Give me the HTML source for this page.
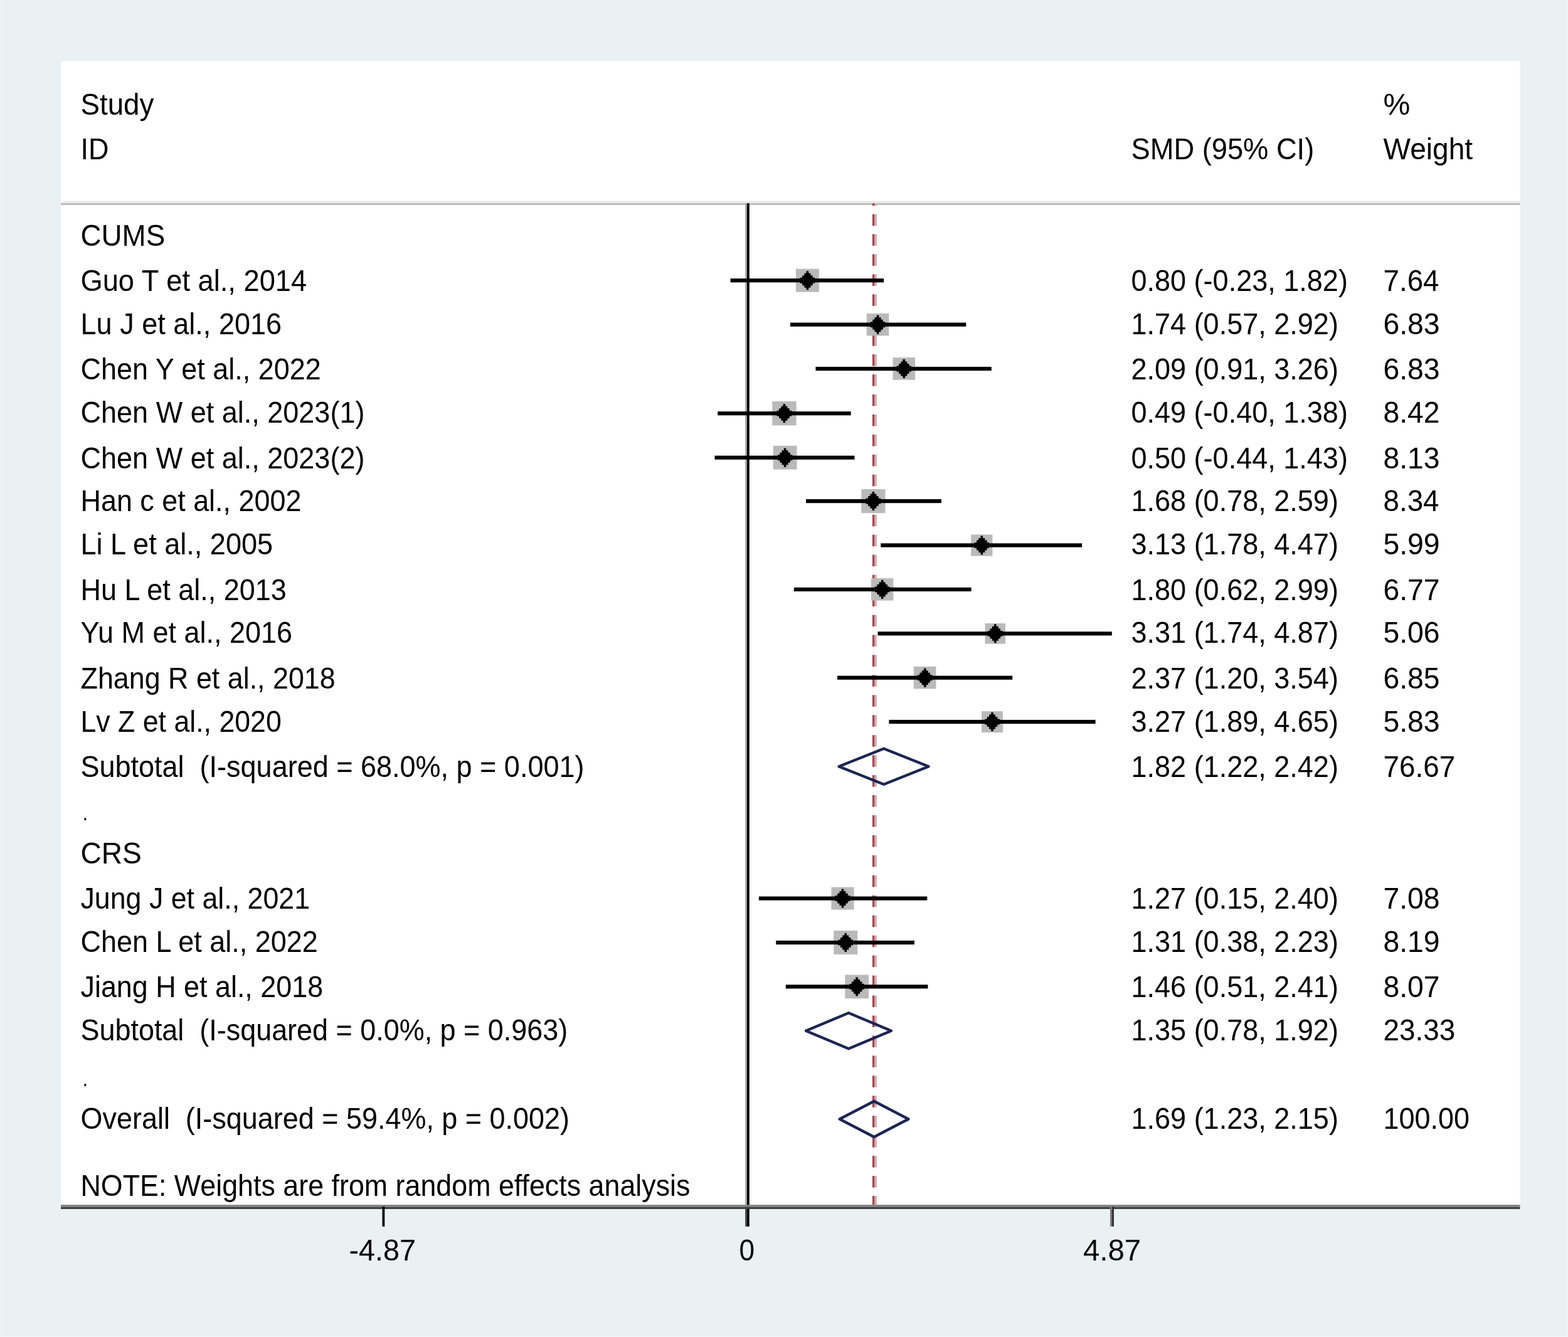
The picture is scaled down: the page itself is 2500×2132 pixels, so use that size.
<!DOCTYPE html>
<html><head><meta charset="utf-8"><title>Forest plot</title>
<style>
html,body{margin:0;padding:0;background:#e9f1f2;}
body{width:2500px;height:2132px;overflow:hidden;}
svg{display:block;}
</style></head>
<body>
<svg width="2500" height="2132" viewBox="0 0 2500 2132">
<rect x="0" y="0" width="2500" height="2132" fill="#e9f1f2"/>
<rect x="0" y="0" width="1" height="2132" fill="#f1f5f6"/>
<rect x="2499" y="0" width="1" height="2132" fill="#f4f7f8"/>
<rect x="0" y="2131" width="2500" height="1" fill="#f4f7f8"/>
<rect x="97" y="97" width="2326.5" height="1824.2" fill="#ffffff"/>
<rect x="97" y="320.3" width="2326.5" height="3.5" fill="#ececec"/>
<rect x="97" y="323.8" width="2326.5" height="3.2" fill="#c0bfbf"/>
<rect x="1188.1" y="324" width="2.9" height="1631.8" fill="#a8a8a8"/>
<rect x="1191" y="324" width="3.8" height="1631.8" fill="#000000"/>
<rect x="1390.9" y="324.0" width="3.7" height="4.1" fill="#9a4b52"/>
<rect x="1394.6" y="324.0" width="3.3" height="4.1" fill="#d2aeb1"/>
<rect x="1390.9" y="341.5" width="3.7" height="18.5" fill="#9a4b52"/>
<rect x="1394.6" y="341.5" width="3.3" height="18.5" fill="#d2aeb1"/>
<rect x="1390.9" y="373.4" width="3.7" height="18.5" fill="#9a4b52"/>
<rect x="1394.6" y="373.4" width="3.3" height="18.5" fill="#d2aeb1"/>
<rect x="1390.9" y="405.4" width="3.7" height="18.5" fill="#9a4b52"/>
<rect x="1394.6" y="405.4" width="3.3" height="18.5" fill="#d2aeb1"/>
<rect x="1390.9" y="437.4" width="3.7" height="18.5" fill="#9a4b52"/>
<rect x="1394.6" y="437.4" width="3.3" height="18.5" fill="#d2aeb1"/>
<rect x="1390.9" y="469.3" width="3.7" height="18.5" fill="#9a4b52"/>
<rect x="1394.6" y="469.3" width="3.3" height="18.5" fill="#d2aeb1"/>
<rect x="1390.9" y="501.2" width="3.7" height="18.5" fill="#9a4b52"/>
<rect x="1394.6" y="501.2" width="3.3" height="18.5" fill="#d2aeb1"/>
<rect x="1390.9" y="533.2" width="3.7" height="18.5" fill="#9a4b52"/>
<rect x="1394.6" y="533.2" width="3.3" height="18.5" fill="#d2aeb1"/>
<rect x="1390.9" y="565.1" width="3.7" height="18.5" fill="#9a4b52"/>
<rect x="1394.6" y="565.1" width="3.3" height="18.5" fill="#d2aeb1"/>
<rect x="1390.9" y="597.1" width="3.7" height="18.5" fill="#9a4b52"/>
<rect x="1394.6" y="597.1" width="3.3" height="18.5" fill="#d2aeb1"/>
<rect x="1390.9" y="629.0" width="3.7" height="18.5" fill="#9a4b52"/>
<rect x="1394.6" y="629.0" width="3.3" height="18.5" fill="#d2aeb1"/>
<rect x="1390.9" y="661.0" width="3.7" height="18.5" fill="#9a4b52"/>
<rect x="1394.6" y="661.0" width="3.3" height="18.5" fill="#d2aeb1"/>
<rect x="1390.9" y="693.0" width="3.7" height="18.5" fill="#9a4b52"/>
<rect x="1394.6" y="693.0" width="3.3" height="18.5" fill="#d2aeb1"/>
<rect x="1390.9" y="724.9" width="3.7" height="18.5" fill="#9a4b52"/>
<rect x="1394.6" y="724.9" width="3.3" height="18.5" fill="#d2aeb1"/>
<rect x="1390.9" y="756.8" width="3.7" height="18.5" fill="#9a4b52"/>
<rect x="1394.6" y="756.8" width="3.3" height="18.5" fill="#d2aeb1"/>
<rect x="1390.9" y="788.8" width="3.7" height="18.5" fill="#9a4b52"/>
<rect x="1394.6" y="788.8" width="3.3" height="18.5" fill="#d2aeb1"/>
<rect x="1390.9" y="820.8" width="3.7" height="18.5" fill="#9a4b52"/>
<rect x="1394.6" y="820.8" width="3.3" height="18.5" fill="#d2aeb1"/>
<rect x="1390.9" y="852.7" width="3.7" height="18.5" fill="#9a4b52"/>
<rect x="1394.6" y="852.7" width="3.3" height="18.5" fill="#d2aeb1"/>
<rect x="1390.9" y="884.6" width="3.7" height="18.5" fill="#9a4b52"/>
<rect x="1394.6" y="884.6" width="3.3" height="18.5" fill="#d2aeb1"/>
<rect x="1390.9" y="916.6" width="3.7" height="18.5" fill="#9a4b52"/>
<rect x="1394.6" y="916.6" width="3.3" height="18.5" fill="#d2aeb1"/>
<rect x="1390.9" y="948.5" width="3.7" height="18.5" fill="#9a4b52"/>
<rect x="1394.6" y="948.5" width="3.3" height="18.5" fill="#d2aeb1"/>
<rect x="1390.9" y="980.5" width="3.7" height="18.5" fill="#9a4b52"/>
<rect x="1394.6" y="980.5" width="3.3" height="18.5" fill="#d2aeb1"/>
<rect x="1390.9" y="1012.4" width="3.7" height="18.5" fill="#9a4b52"/>
<rect x="1394.6" y="1012.4" width="3.3" height="18.5" fill="#d2aeb1"/>
<rect x="1390.9" y="1044.4" width="3.7" height="18.5" fill="#9a4b52"/>
<rect x="1394.6" y="1044.4" width="3.3" height="18.5" fill="#d2aeb1"/>
<rect x="1390.9" y="1076.3" width="3.7" height="18.5" fill="#9a4b52"/>
<rect x="1394.6" y="1076.3" width="3.3" height="18.5" fill="#d2aeb1"/>
<rect x="1390.9" y="1108.3" width="3.7" height="18.5" fill="#9a4b52"/>
<rect x="1394.6" y="1108.3" width="3.3" height="18.5" fill="#d2aeb1"/>
<rect x="1390.9" y="1140.2" width="3.7" height="18.5" fill="#9a4b52"/>
<rect x="1394.6" y="1140.2" width="3.3" height="18.5" fill="#d2aeb1"/>
<rect x="1390.9" y="1172.2" width="3.7" height="18.5" fill="#9a4b52"/>
<rect x="1394.6" y="1172.2" width="3.3" height="18.5" fill="#d2aeb1"/>
<rect x="1390.9" y="1204.2" width="3.7" height="18.5" fill="#9a4b52"/>
<rect x="1394.6" y="1204.2" width="3.3" height="18.5" fill="#d2aeb1"/>
<rect x="1390.9" y="1236.1" width="3.7" height="18.5" fill="#9a4b52"/>
<rect x="1394.6" y="1236.1" width="3.3" height="18.5" fill="#d2aeb1"/>
<rect x="1390.9" y="1268.0" width="3.7" height="18.5" fill="#9a4b52"/>
<rect x="1394.6" y="1268.0" width="3.3" height="18.5" fill="#d2aeb1"/>
<rect x="1390.9" y="1300.0" width="3.7" height="18.5" fill="#9a4b52"/>
<rect x="1394.6" y="1300.0" width="3.3" height="18.5" fill="#d2aeb1"/>
<rect x="1390.9" y="1331.9" width="3.7" height="18.5" fill="#9a4b52"/>
<rect x="1394.6" y="1331.9" width="3.3" height="18.5" fill="#d2aeb1"/>
<rect x="1390.9" y="1363.9" width="3.7" height="18.5" fill="#9a4b52"/>
<rect x="1394.6" y="1363.9" width="3.3" height="18.5" fill="#d2aeb1"/>
<rect x="1390.9" y="1395.8" width="3.7" height="18.5" fill="#9a4b52"/>
<rect x="1394.6" y="1395.8" width="3.3" height="18.5" fill="#d2aeb1"/>
<rect x="1390.9" y="1427.8" width="3.7" height="18.5" fill="#9a4b52"/>
<rect x="1394.6" y="1427.8" width="3.3" height="18.5" fill="#d2aeb1"/>
<rect x="1390.9" y="1459.8" width="3.7" height="18.5" fill="#9a4b52"/>
<rect x="1394.6" y="1459.8" width="3.3" height="18.5" fill="#d2aeb1"/>
<rect x="1390.9" y="1491.7" width="3.7" height="18.5" fill="#9a4b52"/>
<rect x="1394.6" y="1491.7" width="3.3" height="18.5" fill="#d2aeb1"/>
<rect x="1390.9" y="1523.6" width="3.7" height="18.5" fill="#9a4b52"/>
<rect x="1394.6" y="1523.6" width="3.3" height="18.5" fill="#d2aeb1"/>
<rect x="1390.9" y="1555.6" width="3.7" height="18.5" fill="#9a4b52"/>
<rect x="1394.6" y="1555.6" width="3.3" height="18.5" fill="#d2aeb1"/>
<rect x="1390.9" y="1587.5" width="3.7" height="18.5" fill="#9a4b52"/>
<rect x="1394.6" y="1587.5" width="3.3" height="18.5" fill="#d2aeb1"/>
<rect x="1390.9" y="1619.5" width="3.7" height="18.5" fill="#9a4b52"/>
<rect x="1394.6" y="1619.5" width="3.3" height="18.5" fill="#d2aeb1"/>
<rect x="1390.9" y="1651.5" width="3.7" height="18.5" fill="#9a4b52"/>
<rect x="1394.6" y="1651.5" width="3.3" height="18.5" fill="#d2aeb1"/>
<rect x="1390.9" y="1683.4" width="3.7" height="18.5" fill="#9a4b52"/>
<rect x="1394.6" y="1683.4" width="3.3" height="18.5" fill="#d2aeb1"/>
<rect x="1390.9" y="1715.3" width="3.7" height="18.5" fill="#9a4b52"/>
<rect x="1394.6" y="1715.3" width="3.3" height="18.5" fill="#d2aeb1"/>
<rect x="1390.9" y="1747.3" width="3.7" height="18.5" fill="#9a4b52"/>
<rect x="1394.6" y="1747.3" width="3.3" height="18.5" fill="#d2aeb1"/>
<rect x="1390.9" y="1779.2" width="3.7" height="18.5" fill="#9a4b52"/>
<rect x="1394.6" y="1779.2" width="3.3" height="18.5" fill="#d2aeb1"/>
<rect x="1390.9" y="1811.2" width="3.7" height="18.5" fill="#9a4b52"/>
<rect x="1394.6" y="1811.2" width="3.3" height="18.5" fill="#d2aeb1"/>
<rect x="1390.9" y="1843.1" width="3.7" height="18.5" fill="#9a4b52"/>
<rect x="1394.6" y="1843.1" width="3.3" height="18.5" fill="#d2aeb1"/>
<rect x="1390.9" y="1875.1" width="3.7" height="18.5" fill="#9a4b52"/>
<rect x="1394.6" y="1875.1" width="3.3" height="18.5" fill="#d2aeb1"/>
<rect x="1390.9" y="1907.0" width="3.7" height="14.2" fill="#9a4b52"/>
<rect x="1394.6" y="1907.0" width="3.3" height="14.2" fill="#d2aeb1"/>
<rect x="1268.9" y="428.7" width="37.0" height="37.0" fill="#bababa"/>
<rect x="1164.6" y="444.1" width="244.5" height="6.2" fill="#000"/>
<rect x="1275.7" y="442.7" width="23.5" height="9.0" fill="#000"/>
<rect x="1279.2" y="439.2" width="16.5" height="16.0" fill="#000"/>
<rect x="1282.4" y="435.7" width="10.0" height="23.0" fill="#000"/>
<rect x="1285.6" y="432.2" width="3.6" height="30.0" fill="#000"/>
<rect x="1381.7" y="499.8" width="35.6" height="35.6" fill="#bababa"/>
<rect x="1260.0" y="514.5" width="280.3" height="6.2" fill="#000"/>
<rect x="1387.8" y="513.1" width="23.5" height="9.0" fill="#000"/>
<rect x="1391.3" y="509.6" width="16.5" height="16.0" fill="#000"/>
<rect x="1394.5" y="506.1" width="10.0" height="23.0" fill="#000"/>
<rect x="1397.7" y="502.6" width="3.6" height="30.0" fill="#000"/>
<rect x="1423.5" y="570.1" width="35.6" height="35.6" fill="#bababa"/>
<rect x="1300.5" y="584.9" width="280.3" height="6.2" fill="#000"/>
<rect x="1429.5" y="583.5" width="23.5" height="9.0" fill="#000"/>
<rect x="1433.0" y="580.0" width="16.5" height="16.0" fill="#000"/>
<rect x="1436.3" y="576.5" width="10.0" height="23.0" fill="#000"/>
<rect x="1439.5" y="573.0" width="3.6" height="30.0" fill="#000"/>
<rect x="1231.3" y="640.0" width="38.3" height="38.3" fill="#bababa"/>
<rect x="1144.3" y="656.1" width="212.3" height="6.2" fill="#000"/>
<rect x="1238.7" y="654.7" width="23.5" height="9.0" fill="#000"/>
<rect x="1242.2" y="651.2" width="16.5" height="16.0" fill="#000"/>
<rect x="1245.4" y="647.7" width="10.0" height="23.0" fill="#000"/>
<rect x="1248.6" y="644.2" width="3.6" height="30.0" fill="#000"/>
<rect x="1232.7" y="710.8" width="37.8" height="37.8" fill="#bababa"/>
<rect x="1139.5" y="726.6" width="223.0" height="6.2" fill="#000"/>
<rect x="1239.9" y="725.2" width="23.5" height="9.0" fill="#000"/>
<rect x="1243.4" y="721.7" width="16.5" height="16.0" fill="#000"/>
<rect x="1246.6" y="718.2" width="10.0" height="23.0" fill="#000"/>
<rect x="1249.8" y="714.7" width="3.6" height="30.0" fill="#000"/>
<rect x="1373.3" y="780.0" width="38.2" height="38.2" fill="#bababa"/>
<rect x="1285.0" y="796.0" width="215.9" height="6.2" fill="#000"/>
<rect x="1380.6" y="794.6" width="23.5" height="9.0" fill="#000"/>
<rect x="1384.1" y="791.1" width="16.5" height="16.0" fill="#000"/>
<rect x="1387.4" y="787.6" width="10.0" height="23.0" fill="#000"/>
<rect x="1390.6" y="784.1" width="3.6" height="30.0" fill="#000"/>
<rect x="1548.2" y="852.4" width="34.2" height="34.2" fill="#bababa"/>
<rect x="1404.3" y="866.4" width="320.8" height="6.2" fill="#000"/>
<rect x="1553.6" y="865.0" width="23.5" height="9.0" fill="#000"/>
<rect x="1557.1" y="861.5" width="16.5" height="16.0" fill="#000"/>
<rect x="1560.3" y="858.0" width="10.0" height="23.0" fill="#000"/>
<rect x="1563.5" y="854.5" width="3.6" height="30.0" fill="#000"/>
<rect x="1388.9" y="922.1" width="35.5" height="35.5" fill="#bababa"/>
<rect x="1265.9" y="936.8" width="282.7" height="6.2" fill="#000"/>
<rect x="1394.9" y="935.4" width="23.5" height="9.0" fill="#000"/>
<rect x="1398.4" y="931.9" width="16.5" height="16.0" fill="#000"/>
<rect x="1401.7" y="928.4" width="10.0" height="23.0" fill="#000"/>
<rect x="1404.9" y="924.9" width="3.6" height="30.0" fill="#000"/>
<rect x="1570.5" y="994.0" width="32.6" height="32.6" fill="#bababa"/>
<rect x="1399.5" y="1007.2" width="373.3" height="6.2" fill="#000"/>
<rect x="1575.0" y="1005.8" width="23.5" height="9.0" fill="#000"/>
<rect x="1578.5" y="1002.3" width="16.5" height="16.0" fill="#000"/>
<rect x="1581.8" y="998.8" width="10.0" height="23.0" fill="#000"/>
<rect x="1585.0" y="995.3" width="3.6" height="30.0" fill="#000"/>
<rect x="1456.8" y="1062.8" width="35.6" height="35.6" fill="#bababa"/>
<rect x="1335.1" y="1077.6" width="279.1" height="6.2" fill="#000"/>
<rect x="1462.9" y="1076.2" width="23.5" height="9.0" fill="#000"/>
<rect x="1466.4" y="1072.7" width="16.5" height="16.0" fill="#000"/>
<rect x="1469.7" y="1069.2" width="10.0" height="23.0" fill="#000"/>
<rect x="1472.9" y="1065.7" width="3.6" height="30.0" fill="#000"/>
<rect x="1565.1" y="1134.1" width="33.9" height="33.9" fill="#bababa"/>
<rect x="1417.4" y="1147.9" width="329.2" height="6.2" fill="#000"/>
<rect x="1570.3" y="1146.5" width="23.5" height="9.0" fill="#000"/>
<rect x="1573.8" y="1143.0" width="16.5" height="16.0" fill="#000"/>
<rect x="1577.0" y="1139.5" width="10.0" height="23.0" fill="#000"/>
<rect x="1580.2" y="1136.0" width="3.6" height="30.0" fill="#000"/>
<polygon points="1337.5,1222.2 1409.1,1193.7 1480.6,1222.2 1409.1,1250.7" fill="none" stroke="#1c2552" stroke-width="4.4" stroke-linejoin="round"/>
<rect x="1325.5" y="1414.6" width="36.0" height="36.0" fill="#bababa"/>
<rect x="1209.9" y="1429.5" width="268.4" height="6.2" fill="#000"/>
<rect x="1331.7" y="1428.1" width="23.5" height="9.0" fill="#000"/>
<rect x="1335.2" y="1424.6" width="16.5" height="16.0" fill="#000"/>
<rect x="1338.5" y="1421.1" width="10.0" height="23.0" fill="#000"/>
<rect x="1341.7" y="1417.6" width="3.6" height="30.0" fill="#000"/>
<rect x="1329.3" y="1484.0" width="37.9" height="37.9" fill="#bababa"/>
<rect x="1237.3" y="1499.9" width="220.6" height="6.2" fill="#000"/>
<rect x="1336.5" y="1498.5" width="23.5" height="9.0" fill="#000"/>
<rect x="1340.0" y="1495.0" width="16.5" height="16.0" fill="#000"/>
<rect x="1343.2" y="1491.5" width="10.0" height="23.0" fill="#000"/>
<rect x="1346.4" y="1488.0" width="3.6" height="30.0" fill="#000"/>
<rect x="1347.3" y="1554.5" width="37.7" height="37.7" fill="#bababa"/>
<rect x="1252.8" y="1570.2" width="226.6" height="6.2" fill="#000"/>
<rect x="1354.4" y="1568.8" width="23.5" height="9.0" fill="#000"/>
<rect x="1357.9" y="1565.3" width="16.5" height="16.0" fill="#000"/>
<rect x="1361.1" y="1561.8" width="10.0" height="23.0" fill="#000"/>
<rect x="1364.3" y="1558.3" width="3.6" height="30.0" fill="#000"/>
<polygon points="1285.0,1643.7 1353.0,1615.2 1421.0,1643.7 1353.0,1672.2" fill="none" stroke="#1c2552" stroke-width="4.4" stroke-linejoin="round"/>
<polygon points="1338.7,1784.5 1393.6,1756.0 1448.4,1784.5 1393.6,1813.0" fill="none" stroke="#1c2552" stroke-width="4.4" stroke-linejoin="round"/>
<rect x="97" y="1921.2" width="2326.5" height="3.6" fill="#808181"/>
<rect x="97" y="1924.8" width="2326.5" height="3.1" fill="#3c3d3d"/>
<rect x="1188.1" y="1927.9" width="2.9" height="27.9" fill="#4a4e50"/>
<rect x="609.5" y="1924" width="3.8" height="31.8" fill="#000"/>
<rect x="1770" y="1924" width="3" height="31.8" fill="#7a7a7a"/>
<rect x="1773" y="1924" width="3" height="31.8" fill="#333"/>
<g style="white-space:pre" xml:space="preserve" font-family="'Liberation Sans', Arial, sans-serif" font-size="49" fill="#000">
<text x="137.72" y="182.70" transform="scale(0.93307,1)">Study</text>
<text x="140.13" y="254.50" transform="scale(0.91700,1)">ID</text>
<text x="1951.74" y="254.50" transform="scale(0.92405,1)">SMD (95% CI)</text>
<text x="2241.54" y="182.70" transform="scale(0.98392,1)">%</text>
<text x="2344.12" y="254.50" transform="scale(0.94086,1)">Weight</text>
<text x="137.60" y="392.10" transform="scale(0.93389,1)">CUMS</text>
<text x="139.04" y="464.50" transform="scale(0.92421,1)">Guo T et al., 2014</text>
<text x="1962.13" y="464.50" transform="scale(0.91915,1)">0.80 (-0.23, 1.82)</text>
<text x="2361.40" y="464.50" transform="scale(0.93398,1)">7.64</text>
<text x="139.69" y="533.10" transform="scale(0.91989,1)">Lu J et al., 2016</text>
<text x="1961.92" y="533.10" transform="scale(0.91925,1)">1.74 (0.57, 2.92)</text>
<text x="2334.10" y="533.10" transform="scale(0.94490,1)">6.83</text>
<text x="140.06" y="605.50" transform="scale(0.91749,1)">Chen Y et al., 2022</text>
<text x="1961.92" y="605.50" transform="scale(0.91925,1)">2.09 (0.91, 3.26)</text>
<text x="2334.10" y="605.50" transform="scale(0.94490,1)">6.83</text>
<text x="139.82" y="674.30" transform="scale(0.91904,1)">Chen W et al., 2023(1)</text>
<text x="1962.13" y="674.30" transform="scale(0.91915,1)">0.49 (-0.40, 1.38)</text>
<text x="2334.10" y="674.30" transform="scale(0.94490,1)">8.42</text>
<text x="139.82" y="746.60" transform="scale(0.91904,1)">Chen W et al., 2023(2)</text>
<text x="1962.13" y="746.60" transform="scale(0.91915,1)">0.50 (-0.44, 1.43)</text>
<text x="2334.10" y="746.60" transform="scale(0.94490,1)">8.13</text>
<text x="140.21" y="815.50" transform="scale(0.91648,1)">Han c et al., 2002</text>
<text x="1961.92" y="815.50" transform="scale(0.91925,1)">1.68 (0.78, 2.59)</text>
<text x="2361.40" y="815.50" transform="scale(0.93398,1)">8.34</text>
<text x="139.58" y="884.30" transform="scale(0.92063,1)">Li L et al., 2005</text>
<text x="1961.92" y="884.30" transform="scale(0.91925,1)">3.13 (1.78, 4.47)</text>
<text x="2334.10" y="884.30" transform="scale(0.94490,1)">5.99</text>
<text x="139.96" y="956.70" transform="scale(0.91814,1)">Hu L et al., 2013</text>
<text x="1961.92" y="956.70" transform="scale(0.91925,1)">1.80 (0.62, 2.99)</text>
<text x="2334.10" y="956.70" transform="scale(0.94490,1)">6.77</text>
<text x="139.96" y="1025.40" transform="scale(0.91810,1)">Yu M et al., 2016</text>
<text x="1961.92" y="1025.40" transform="scale(0.91925,1)">3.31 (1.74, 4.87)</text>
<text x="2334.10" y="1025.40" transform="scale(0.94490,1)">5.06</text>
<text x="140.41" y="1098.00" transform="scale(0.91519,1)">Zhang R et al., 2018</text>
<text x="1961.92" y="1098.00" transform="scale(0.91925,1)">2.37 (1.20, 3.54)</text>
<text x="2334.10" y="1098.00" transform="scale(0.94490,1)">6.85</text>
<text x="140.92" y="1167.10" transform="scale(0.91186,1)">Lv Z et al., 2020</text>
<text x="1961.92" y="1167.10" transform="scale(0.91925,1)">3.27 (1.89, 4.65)</text>
<text x="2334.10" y="1167.10" transform="scale(0.94490,1)">5.83</text>
<text x="139.89" y="1239.20" transform="scale(0.91861,1)">Subtotal&#160; (I-squared = 68.0%, p = 0.001)</text>
<text x="1961.92" y="1239.20" transform="scale(0.91925,1)">1.82 (1.22, 2.42)</text>
<text x="2358.03" y="1239.20" transform="scale(0.93531,1)">76.67</text>
<text x="143.40" y="1308.30" transform="scale(0.917,1)" font-size="34">.</text>
<text x="136.58" y="1376.80" transform="scale(0.94086,1)">CRS</text>
<text x="140.75" y="1449.10" transform="scale(0.91299,1)">Jung J et al., 2021</text>
<text x="1961.92" y="1449.10" transform="scale(0.91925,1)">1.27 (0.15, 2.40)</text>
<text x="2334.10" y="1449.10" transform="scale(0.94490,1)">7.08</text>
<text x="139.98" y="1518.20" transform="scale(0.91798,1)">Chen L et al., 2022</text>
<text x="1961.92" y="1518.20" transform="scale(0.91925,1)">1.31 (0.38, 2.23)</text>
<text x="2334.10" y="1518.20" transform="scale(0.94490,1)">8.19</text>
<text x="140.28" y="1590.10" transform="scale(0.91605,1)">Jiang H et al., 2018</text>
<text x="1961.92" y="1590.10" transform="scale(0.91925,1)">1.46 (0.51, 2.41)</text>
<text x="2334.10" y="1590.10" transform="scale(0.94490,1)">8.07</text>
<text x="140.13" y="1659.30" transform="scale(0.91700,1)">Subtotal&#160; (I-squared = 0.0%, p = 0.963)</text>
<text x="1961.92" y="1659.30" transform="scale(0.91925,1)">1.35 (0.78, 1.92)</text>
<text x="2358.03" y="1659.30" transform="scale(0.93531,1)">23.33</text>
<text x="143.40" y="1731.80" transform="scale(0.917,1)" font-size="34">.</text>
<text x="140.06" y="1800.50" transform="scale(0.91747,1)">Overall&#160; (I-squared = 59.4%, p = 0.002)</text>
<text x="1961.92" y="1800.50" transform="scale(0.91925,1)">1.69 (1.23, 2.15)</text>
<text x="2405.03" y="1800.50" transform="scale(0.91704,1)">100.00</text>
<text x="140.48" y="1907.00" transform="scale(0.91474,1)">NOTE: Weights are from random effects analysis</text>
<text x="583.60" y="2010.40" transform="scale(0.95356,1)">-4.87</text>
<text x="1305.94" y="2010.40" transform="scale(0.90241,1)">0</text>
<text x="1786.49" y="2010.40" transform="scale(0.96670,1)">4.87</text>
</g>
</svg>
</body></html>
